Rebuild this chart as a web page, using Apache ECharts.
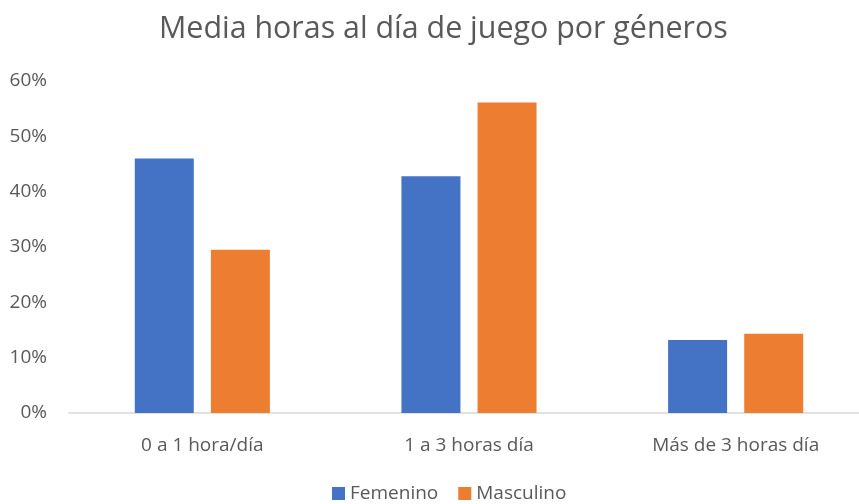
<!DOCTYPE html>
<html lang="es">
<head>
    <meta charset="UTF-8">
    <title>Media horas al día de juego por géneros</title>
    <script src="https://cdn.jsdelivr.net/npm/echarts@6/dist/echarts.min.js"></script>
    <style>
        html, body { margin: 0; padding: 0; background: #fff; }
        #chart { width: 859px; height: 504px; }
    </style>
</head>
<body>
<div id="chart"></div>
<script type="text/javascript">
    var categorias = ['0 a 1 hora/día', '1 a 3 horas día', 'Más de 3 horas día'];
    var femenino = [46.0, 42.8, 13.2];
    var masculino = [29.5, 56.1, 14.3];
    var ticksY = [0, 10, 20, 30, 40, 50, 60];

    var fuente = '"Open Sans", "Noto Sans", sans-serif';
    var myChart = echarts.init(document.getElementById('chart'));
    var option = {
        animation: false,
        title: {
            text: 'Media horas al día de juego por géneros',
            left: 154,
            top: 9,
            textStyle: { fontFamily: fuente, fontSize: 30.4, fontWeight: 'normal', color: '#595959' }
        },
        legend: {
            data: ['Femenino', 'Masculino'],
            top: 479,
            left: 327,
            itemWidth: 13,
            itemHeight: 13,
            itemGap: 20,
            icon: 'rect',
            textStyle: { fontFamily: fuente, fontSize: 19, color: '#595959' }
        },
        grid: {
            left: 69,
            width: 800,
            top: 81,
            height: 332,
            outerBoundsMode: 'none'
        },
        xAxis: {
            type: 'category',
            data: categorias,
            axisLine: { lineStyle: { color: '#d9d9d9', width: 1.5 } },
            axisTick: { show: false },
            axisLabel: { fontFamily: fuente, fontSize: 19, color: '#595959', margin: 23 }
        },
        yAxis: {
            type: 'value',
            min: ticksY[0],
            max: ticksY[ticksY.length - 1],
            interval: 10,
            splitLine: { show: false },
            axisLine: { show: false },
            axisTick: { show: false },
            axisLabel: {
                fontFamily: fuente, fontSize: 19, color: '#595959', margin: 22,
                formatter: function (v) { return v + '%'; }
            }
        },
        series: [
            {
                name: 'Femenino',
                type: 'bar',
                data: femenino,
                barWidth: 59,
                barGap: '29%',
                itemStyle: { color: '#4472C4' }
            },
            {
                name: 'Masculino',
                type: 'bar',
                data: masculino,
                barWidth: 59,
                barGap: '29%',
                itemStyle: { color: '#ED7D31' }
            }
        ]
    };
    myChart.setOption(option);
</script>
</body>
</html>
